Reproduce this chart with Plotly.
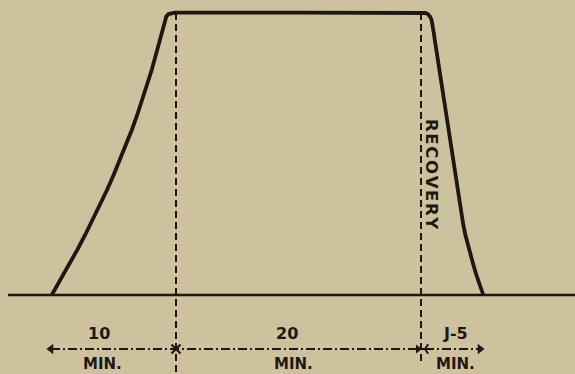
import plotly.graph_objects as go

# ---- data (time units along the horizontal, level units upward; baseline = 0) ----
rise_time = [51.7, 60.5, 69.0, 77.2, 85.1, 92.7, 100.0, 107.0, 113.6, 120.0, 126.0, 131.8, 137.2,
             142.3, 147.1, 151.7, 155.8, 159.7, 163.3, 164.6, 166.3, 168.5, 171.5, 175.0]
rise_level = [0, 15, 30, 45, 60, 75, 90, 105, 120, 135, 150, 165, 180,
              195, 210, 225, 240, 255, 270, 275, 278.5, 280.9, 282.0, 282.3]
plateau_time = [175.0, 300.0, 422.0]
plateau_level = [282.3, 282.3, 282.3]
fall_time = [422.0, 425.5, 428.0, 430.0, 431.6, 432.8, 433.8, 434.8, 438.85, 443.8, 448.75,
             453.85, 458.8, 461.3, 463.3, 465.4, 467.9, 470.5, 473.4, 476.4, 479.8, 483.3]
fall_level = [282.3, 282.0, 280.8, 278.5, 275, 270, 262, 255, 228, 195, 162,
              128, 95, 80, 70, 60, 50, 40, 30, 20, 10, 0]

baseline_time = [8, 575]
baseline_level = [0, 0]

phase_bounds = [48, 176, 421, 483]          # arrow ends / phase divisions
phase_labels = ["10", "20", "J-5"]
phase_label_x = [99, 287, 455]
unit_label = "MIN."
unit_label_x = [102, 293, 455]
recovery_text = "\u200a".join("RECOVERY")

BG = "#cec29e"
INK = "#1d1813"
FONT = "DejaVu Sans"

fig = go.Figure()

# baseline
fig.add_trace(go.Scatter(x=baseline_time, y=baseline_level, mode="lines",
                         line=dict(color=INK, width=2.6), hoverinfo="skip"))

# main curve
curve_x = rise_time + plateau_time[1:-1] + fall_time
curve_y = rise_level + plateau_level[1:-1] + fall_level
fig.add_trace(go.Scatter(x=curve_x, y=curve_y, mode="lines",
                         line=dict(color=INK, width=3.8, shape="linear"),
                         hoverinfo="skip"))

# dashed vertical dividers
fig.add_trace(go.Scatter(x=[phase_bounds[1], phase_bounds[1]], y=[282, -77], mode="lines",
                         line=dict(color=INK, width=2, dash="7px,4px"), hoverinfo="skip"))
fig.add_trace(go.Scatter(x=[phase_bounds[2], phase_bounds[2]], y=[282, -66], mode="lines",
                         line=dict(color=INK, width=2, dash="7px,4px"), hoverinfo="skip"))

# dash-dot dimension line
arrow_level = -54
fig.add_trace(go.Scatter(x=[phase_bounds[0] + 3, phase_bounds[3] - 3], y=[arrow_level, arrow_level],
                         mode="lines", line=dict(color=INK, width=2.2, dash="9px,3px,2px,3px"),
                         hoverinfo="skip"))

# arrow heads
fig.add_trace(go.Scatter(x=[phase_bounds[0] + 3], y=[arrow_level], mode="markers",
                         marker=dict(symbol="triangle-left", size=9, color=INK), hoverinfo="skip"))
fig.add_trace(go.Scatter(x=[phase_bounds[3] - 3], y=[arrow_level], mode="markers",
                         marker=dict(symbol="triangle-right", size=9, color=INK), hoverinfo="skip"))
fig.add_trace(go.Scatter(x=[phase_bounds[1]], y=[arrow_level], mode="markers",
                         marker=dict(symbol="x-thin", size=9, line=dict(color=INK, width=2.2)),
                         hoverinfo="skip"))
fig.add_trace(go.Scatter(x=[phase_bounds[2] - 3], y=[arrow_level], mode="markers",
                         marker=dict(symbol="triangle-right", size=8, color=INK), hoverinfo="skip"))
fig.add_trace(go.Scatter(x=[phase_bounds[2] + 4], y=[arrow_level], mode="markers",
                         marker=dict(symbol="y-left", size=8, line=dict(color=INK, width=2)),
                         hoverinfo="skip"))

annotations = []
for lbl, lx in zip(phase_labels, phase_label_x):
    annotations.append(dict(x=lx, y=-38, text=lbl, showarrow=False,
                            font=dict(family=FONT, size=16, color=INK, weight="bold")))
for ux in unit_label_x:
    annotations.append(dict(x=ux, y=-69, text=unit_label, showarrow=False,
                            font=dict(family=FONT, size=15, color=INK, weight="bold")))
annotations.append(dict(x=432, y=121, text=recovery_text, showarrow=False, textangle=90,
                        font=dict(family=FONT, size=16.5, color=INK, weight="bold")))

fig.update_layout(
    width=575, height=374,
    margin=dict(l=0, r=0, t=0, b=0),
    paper_bgcolor=BG, plot_bgcolor=BG,
    showlegend=False,
    xaxis=dict(range=[0, 575], visible=False, fixedrange=True),
    yaxis=dict(range=[-79, 295], visible=False, fixedrange=True),
    annotations=annotations,
)

fig.write_html("out.html", config={"displayModeBar": False},
               post_script="document.body.style.margin='0';document.body.style.background='%s';" % BG)
